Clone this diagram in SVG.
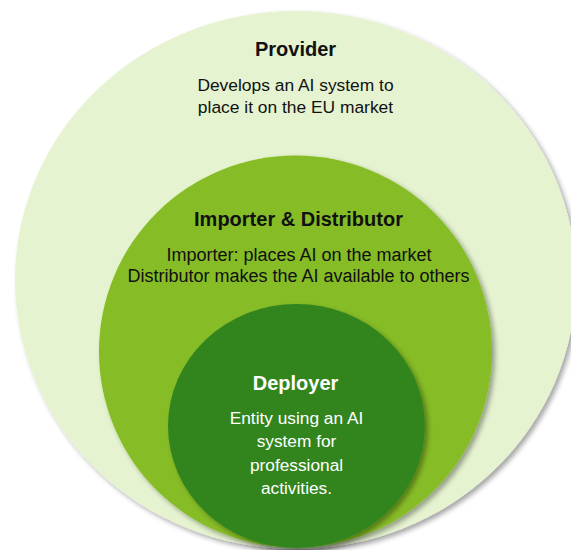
<svg xmlns="http://www.w3.org/2000/svg" width="571" height="550" viewBox="0 0 571 550">
  <defs>
    <filter id="shadow" x="-10%" y="-10%" width="125%" height="125%">
      <feDropShadow dx="3" dy="3" stdDeviation="2.5" flood-color="#000" flood-opacity="0.35"/>
    </filter>
    <style>
      .ring { filter: url(#shadow); }
      .title { font-family: "Liberation Sans", Arial, sans-serif; font-weight: bold; font-size: 20px; text-anchor: middle; }
      .body { font-family: "Liberation Sans", Arial, sans-serif; text-anchor: middle; }
      .dark { fill: #111111; }
      .light { fill: #ffffff; }
    </style>
  </defs>
  <rect width="571" height="550" fill="#ffffff"/>

  <!-- outer ring: provider -->
  <g id="provider">
    <ellipse class="ring" cx="295.5" cy="280" rx="280.5" ry="269" fill="#E5F3D0"/>
    <text class="title dark" x="295.5" y="56">Provider</text>
    <text class="body dark" font-size="17.4" x="295.5" y="91">Develops an AI system to</text>
    <text class="body dark" font-size="17.4" x="295.5" y="113">place it on the EU market</text>
  </g>

  <!-- middle ring: importer and distributor -->
  <g id="importer-distributor">
    <ellipse class="ring" cx="295.5" cy="351.5" rx="196.5" ry="196" fill="#86BC25"/>
    <text class="title dark" x="298.5" y="226">Importer &amp; Distributor</text>
    <text class="body dark" font-size="18" x="299" y="261">Importer: places AI on the market</text>
    <text class="body dark" font-size="18" x="298.5" y="282">Distributor makes the AI available to others</text>
  </g>

  <!-- inner ring: deployer -->
  <g id="deployer">
    <ellipse class="ring" cx="296.5" cy="426" rx="128.5" ry="122" fill="#33851F"/>
    <text class="title light" x="295.5" y="390">Deployer</text>
    <text class="body light" font-size="17.3" x="296.5" y="424">Entity using an AI</text>
    <text class="body light" font-size="17.3" x="296.5" y="447">system for</text>
    <text class="body light" font-size="17.3" x="296.5" y="471">professional</text>
    <text class="body light" font-size="17.3" x="296.5" y="494">activities.</text>
  </g>

  <!-- nested rings, no connectors -->
  <g id="connectors"/>
</svg>
